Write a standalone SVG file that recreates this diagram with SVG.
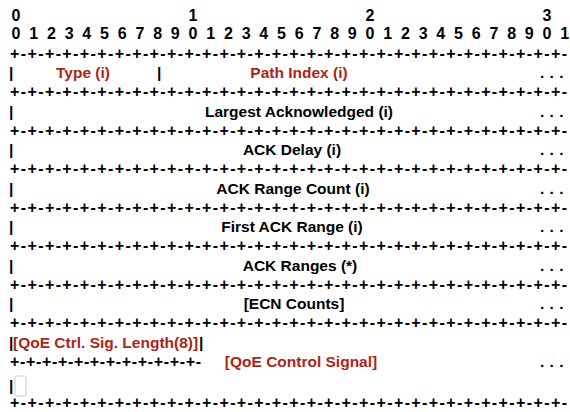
<svg xmlns="http://www.w3.org/2000/svg" width="570" height="412" viewBox="0 0 570 412">
<style>
text{font-family:"Liberation Sans",Arial,Helvetica,sans-serif;font-weight:bold;font-size:15.5px;fill:#000}
.r{fill:#ad2418}
.m{text-anchor:middle}
.d{text-anchor:middle;font-size:16px}
.s{font-size:16px}
.dots{letter-spacing:0.5px}
</style>
<rect width="570" height="412" fill="#fff"/>
<g id="ruler">
<text class="d" x="16 193 370 547" y="21">0123</text>
<text class="d" x="16 33.7 51.4 69.1 86.8 104.5 122.2 139.9 157.6 175.3 193 210.7 228.4 246.1 263.8 281.5 299.2 316.9 334.6 352.3 370 387.7 405.4 423.1 440.8 458.5 476.2 493.9 511.6 529.3 547 564.7" y="38.5">01234567890123456789012345678901</text>
</g>
<g id="connectors">
<text class="s" x="10" y="58.6" textLength="557" lengthAdjust="spacing">+-+-+-+-+-+-+-+-+-+-+-+-+-+-+-+-+-+-+-+-+-+-+-+-+-+-+-+-+-+-+-+-</text>
<text class="s" x="10" y="97.1" textLength="557" lengthAdjust="spacing">+-+-+-+-+-+-+-+-+-+-+-+-+-+-+-+-+-+-+-+-+-+-+-+-+-+-+-+-+-+-+-+-</text>
<text class="s" x="10" y="135.6" textLength="557" lengthAdjust="spacing">+-+-+-+-+-+-+-+-+-+-+-+-+-+-+-+-+-+-+-+-+-+-+-+-+-+-+-+-+-+-+-+-</text>
<text class="s" x="10" y="174.1" textLength="557" lengthAdjust="spacing">+-+-+-+-+-+-+-+-+-+-+-+-+-+-+-+-+-+-+-+-+-+-+-+-+-+-+-+-+-+-+-+-</text>
<text class="s" x="10" y="212.6" textLength="557" lengthAdjust="spacing">+-+-+-+-+-+-+-+-+-+-+-+-+-+-+-+-+-+-+-+-+-+-+-+-+-+-+-+-+-+-+-+-</text>
<text class="s" x="10" y="251.1" textLength="557" lengthAdjust="spacing">+-+-+-+-+-+-+-+-+-+-+-+-+-+-+-+-+-+-+-+-+-+-+-+-+-+-+-+-+-+-+-+-</text>
<text class="s" x="10" y="289.6" textLength="557" lengthAdjust="spacing">+-+-+-+-+-+-+-+-+-+-+-+-+-+-+-+-+-+-+-+-+-+-+-+-+-+-+-+-+-+-+-+-</text>
<text class="s" x="10" y="328.1" textLength="557" lengthAdjust="spacing">+-+-+-+-+-+-+-+-+-+-+-+-+-+-+-+-+-+-+-+-+-+-+-+-+-+-+-+-+-+-+-+-</text>
<text class="s" x="10" y="367.1" textLength="191" lengthAdjust="spacing">+-+-+-+-+-+-+-+-+-+-+-+-</text>
<text class="s" x="10" y="408.3" textLength="557" lengthAdjust="spacing">+-+-+-+-+-+-+-+-+-+-+-+-+-+-+-+-+-+-+-+-+-+-+-+-+-+-+-+-+-+-+-+-</text>
</g>
<g id="row-type-path">
<text x="9" y="78">|</text>
<text class="r m" x="83" y="78">Type (i)</text>
<text x="157" y="78">|</text>
<text class="r m" x="299" y="78">Path Index (i)</text>
<text class="dots" x="540" y="78">. . .</text>
</g>
<g id="row-largest">
<text x="9" y="116.5">|</text>
<text class="m" x="299" y="116.5">Largest Acknowledged (i)</text>
<text class="dots" x="540" y="116.5">. . .</text>
</g>
<g id="row-delay">
<text x="9" y="155">|</text>
<text class="m" x="292" y="155">ACK Delay (i)</text>
<text class="dots" x="540" y="155">. . .</text>
</g>
<g id="row-range-count">
<text x="9" y="193.5">|</text>
<text class="m" x="293" y="193.5">ACK Range Count (i)</text>
<text class="dots" x="540" y="193.5">. . .</text>
</g>
<g id="row-first-range">
<text x="9" y="232">|</text>
<text class="m" x="292" y="232">First ACK Range (i)</text>
<text class="dots" x="540" y="232">. . .</text>
</g>
<g id="row-ranges">
<text x="9" y="270.5">|</text>
<text class="m" x="300" y="270.5">ACK Ranges (*)</text>
<text class="dots" x="540" y="270.5">. . .</text>
</g>
<g id="row-ecn">
<text x="9" y="309">|</text>
<text class="m" x="294" y="309">[ECN Counts]</text>
<text class="dots" x="540" y="309">. . .</text>
</g>
<g id="row-qoe-length">
<text x="9" y="347.5">|</text>
<text class="r" x="13" y="347.5">[QoE Ctrl. Sig. Length(8)]</text>
<text x="199" y="347.5">|</text>
</g>
<g id="row-qoe-signal">
<text class="r m" x="301" y="367">[QoE Control Signal]</text>
<text class="dots" x="540" y="367">. . .</text>
<text x="9" y="391">|</text>
<rect x="15" y="376" width="11" height="20" rx="1.5" fill="#fff" stroke="#c8c8c8" stroke-width="1"/>
</g>
</svg>
